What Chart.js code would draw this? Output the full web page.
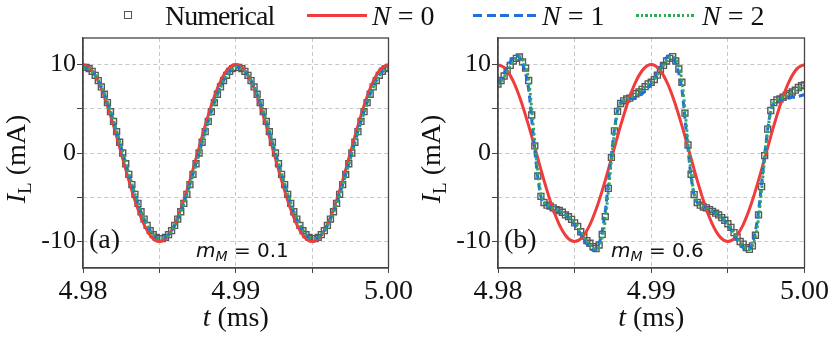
<!DOCTYPE html>
<html lang="en">
<head>
<meta charset="UTF-8">
<title>Inductor current</title>
<style>
  body { margin:0; background:#fff; }
  #wrap { position:relative; width:831px; height:340px; overflow:hidden; }
  canvas { position:absolute; top:0; }
  #cA { left:0; }
  #cB { left:415px; }
  .lg { position:absolute; top:2px; font:28px "Liberation Serif", "Times New Roman", serif; line-height:28px; color:#111; white-space:nowrap; }
  .mk { position:absolute; top:11px; width:6px; height:6px; border:1.5px solid #555; }
  .ln { position:absolute; top:14px; height:3px; }
</style>
</head>
<body>
<div id="wrap">
  <canvas id="cA" width="415" height="340"></canvas>
  <canvas id="cB" width="416" height="340"></canvas>

  <span class="mk" style="left:124px"></span>
  <span class="lg" style="left:165px; letter-spacing:-1px">Numerical</span>
  <span class="ln" style="left:307px; width:60px; background:#f03c3c"></span>
  <span class="lg" style="left:372px"><i>N</i> = 0</span>
  <span class="ln" style="left:473px; width:64px; background:repeating-linear-gradient(90deg,#1f6fe0 0 9px,transparent 9px 13.5px)"></span>
  <span class="lg" style="left:542px"><i>N</i> = 1</span>
  <span class="ln" style="left:636px; width:58px; background:repeating-linear-gradient(90deg,#2fa85a 0 2.5px,transparent 2.5px 4.6px)"></span>
  <span class="lg" style="left:702px"><i>N</i> = 2</span>
</div>

<script src="https://cdn.jsdelivr.net/npm/chart.js"></script>
<script>
// time axis: samples start at t0, numerical every 0.2 us, smooth curves of panel (a) every 0.5 us
const t0 = 4.98;
const dtNum = 0.0002;
const dtLine = 0.0005;

const xTicks = [4.98, 4.985, 4.99, 4.995, 5.00];
const xTickLabels = ['4.98', '', '4.99', '', '5.00'];
const yTicks = [-10, -5, 0, 5, 10];
const yTickLabels = ['-10', '', '0', '', '10'];

// N = 0 (same in both panels), step dtLine
const iN0 = [10, 9.51, 8.09, 5.88, 3.09, 0, -3.09, -5.88, -8.09, -9.51,
  -10, -9.51, -8.09, -5.88, -3.09, 0, 3.09, 5.88, 8.09, 9.51,
  10, 9.51, 8.09, 5.88, 3.09, 0, -3.09, -5.88, -8.09, -9.51,
  -10, -9.51, -8.09, -5.88, -3.09, 0, 3.09, 5.88, 8.09, 9.51, 10];

// panel (a), m_M = 0.1
const iNumA = [9.68, 9.68, 9.53, 9.23, 8.78, 8.19, 7.47, 6.64, 5.70, 4.67,
  3.57, 2.41, 1.22, 0, -1.22, -2.41, -3.57, -4.67, -5.70, -6.64,
  -7.47, -8.19, -8.78, -9.23, -9.53, -9.68, -9.68, -9.53, -9.23, -8.78,
  -8.19, -7.47, -6.64, -5.70, -4.67, -3.57, -2.41, -1.22, 0, 1.22,
  2.41, 3.57, 4.67, 5.70, 6.64, 7.47, 8.19, 8.78, 9.23, 9.53,
  9.68, 9.68, 9.53, 9.23, 8.78, 8.19, 7.47, 6.64, 5.70, 4.67,
  3.57, 2.41, 1.22, 0, -1.22, -2.41, -3.57, -4.67, -5.70, -6.64,
  -7.47, -8.19, -8.78, -9.23, -9.53, -9.68, -9.68, -9.53, -9.23, -8.78,
  -8.19, -7.47, -6.64, -5.70, -4.67, -3.57, -2.41, -1.22, 0, 1.22,
  2.41, 3.57, 4.67, 5.70, 6.64, 7.47, 8.19, 8.78, 9.23, 9.53, 9.68];
const iN1A = [9.68, 9.40, 8.19, 6.18, 3.57, 0.61, -2.41, -5.20, -7.47, -9.02,
  -9.68, -9.40, -8.19, -6.18, -3.57, -0.61, 2.41, 5.20, 7.47, 9.02,
  9.68, 9.40, 8.19, 6.18, 3.57, 0.61, -2.41, -5.20, -7.47, -9.02,
  -9.68, -9.40, -8.19, -6.18, -3.57, -0.61, 2.41, 5.20, 7.47, 9.02, 9.68];
const iN2A = [9.66, 9.42, 8.24, 6.25, 3.65, 0.70, -2.33, -5.12, -7.41, -8.98,
  -9.66, -9.42, -8.24, -6.25, -3.65, -0.70, 2.33, 5.12, 7.41, 8.98,
  9.66, 9.42, 8.24, 6.25, 3.65, 0.70, -2.33, -5.12, -7.41, -8.98,
  -9.66, -9.42, -8.24, -6.25, -3.65, -0.70, 2.33, 5.12, 7.41, 8.98, 9.66];

// panel (b), m_M = 0.6, all step dtNum
const iNumB = [7.8, 8.2, 8.7, 9.3, 9.9, 10.4, 10.7, 10.85, 10.3, 9.6,
  8.2, 4.3, 0.8, -2.6, -4.9, -5.6, -5.9, -6.0, -6.2, -6.4,
  -6.5, -6.7, -7.0, -7.2, -7.5, -7.9, -8.3, -8.9, -9.4, -9.9,
  -10.2, -10.6, -10.8, -10.4, -9.2, -7.2, -4.0, -0.5, 2.5, 4.7,
  5.6, 5.9, 6.1, 6.2, 6.4, 6.7, 6.9, 7.2, 7.5, 7.8,
  8.0, 8.3, 8.8, 9.4, 9.9, 10.4, 10.7, 10.9, 10.4, 9.5,
  8.0, 4.5, 0.9, -2.4, -4.7, -5.6, -5.9, -6.1, -6.2, -6.4,
  -6.6, -6.8, -7.0, -7.3, -7.6, -8.0, -8.4, -9.0, -9.5, -10.0,
  -10.3, -10.7, -10.9, -10.5, -9.3, -7.0, -3.8, -0.3, 2.7, 4.8,
  5.7, 6.0, 6.1, 6.3, 6.5, 6.7, 6.9, 7.1, 7.4, 7.6, 7.7];
const iN1B = [7.9, 8.4, 9.0, 9.7, 10.3, 10.8, 11.0, 10.8, 10.1, 9.0,
  7.2, 3.8, 0.3, -2.8, -4.9, -5.6, -5.9, -6.1, -6.2, -6.4,
  -6.6, -6.8, -7.0, -7.3, -7.7, -8.1, -8.6, -9.2, -9.8, -10.3,
  -10.7, -11.0, -10.9, -10.2, -8.8, -6.6, -3.4, -0.2, 2.7, 4.8,
  5.7, 5.9, 6.0, 6.1, 6.2, 6.3, 6.5, 6.7, 7.0, 7.4,
  7.9, 8.5, 9.1, 9.7, 10.3, 10.8, 11.0, 10.8, 10.1, 9.0,
  7.2, 3.9, 0.4, -2.7, -4.8, -5.6, -5.9, -6.1, -6.2, -6.4,
  -6.6, -6.8, -7.0, -7.3, -7.7, -8.1, -8.6, -9.2, -9.8, -10.3,
  -10.7, -11.0, -10.9, -10.2, -8.8, -6.6, -3.4, -0.2, 2.7, 4.8,
  5.6, 5.9, 6.0, 6.1, 6.1, 6.2, 6.3, 6.3, 6.4, 6.5, 6.6];
const iN2B = [7.7, 8.1, 8.6, 9.2, 9.8, 10.3, 10.7, 10.9, 10.6, 9.8,
  8.3, 5.0, 1.2, -2.2, -4.6, -5.6, -5.9, -6.0, -6.2, -6.4,
  -6.5, -6.7, -7.0, -7.2, -7.5, -7.9, -8.3, -8.9, -9.5, -10.0,
  -10.4, -10.7, -10.9, -10.6, -9.6, -7.6, -4.4, -0.8, 2.3, 4.6,
  5.6, 5.9, 6.1, 6.2, 6.4, 6.6, 6.9, 7.2, 7.5, 7.8,
  7.9, 8.3, 8.8, 9.4, 9.9, 10.4, 10.8, 10.9, 10.6, 9.8,
  8.2, 4.9, 1.1, -2.3, -4.6, -5.6, -5.9, -6.1, -6.2, -6.4,
  -6.6, -6.8, -7.0, -7.3, -7.6, -8.0, -8.4, -9.0, -9.6, -10.1,
  -10.5, -10.8, -10.9, -10.5, -9.5, -7.4, -4.2, -0.6, 2.5, 4.7,
  5.7, 6.0, 6.1, 6.3, 6.5, 6.7, 6.9, 7.1, 7.3, 7.5, 7.6];

const RED = '#f03c3c', BLUE = '#1f6fe0', GREEN = '#2fa85a', GREY = '#595959';
const SERIF = '"Liberation Serif", "Times New Roman", serif';
const SANS = '"DejaVu Sans", sans-serif';

function pts(vals, dt) {
  return vals.map((v, i) => ({ x: t0 + i * dt, y: v }));
}

// draw a run of text pieces with different fonts / baseline shifts
function drawRich(ctx, parts, x, y, centered) {
  let w = 0;
  parts.forEach(p => { ctx.font = p.f; w += ctx.measureText(p.t).width; });
  let cx = centered ? x - w / 2 : x;
  parts.forEach(p => {
    ctx.font = p.f;
    ctx.fillText(p.t, cx, y + (p.dy || 0));
    cx += ctx.measureText(p.t).width;
  });
}

const panelText = {
  id: 'panelText',
  afterDraw(chart, args, opts) {
    const ctx = chart.ctx, a = chart.chartArea;
    ctx.save();
    ctx.strokeStyle = '#444';
    ctx.lineWidth = 1.3;
    ctx.strokeRect(a.left, a.top, a.right - a.left, a.bottom - a.top);

    ctx.fillStyle = '#111';
    ctx.textAlign = 'left';
    ctx.textBaseline = 'alphabetic';
    // x title
    drawRich(ctx, [
      { t: 't', f: 'italic 28px ' + SERIF },
      { t: ' (ms)', f: '28px ' + SERIF }
    ], (a.left + a.right) / 2, a.bottom + 58, true);
    // y title
    ctx.save();
    ctx.translate(a.left - 58, (a.top + a.bottom) / 2 + 6);
    ctx.rotate(-Math.PI / 2);
    drawRich(ctx, [
      { t: 'I', f: 'italic 28px ' + SERIF },
      { t: 'L', f: '19px ' + SERIF, dy: 6 },
      { t: ' (mA)', f: '28px ' + SERIF }
    ], 0, 0, true);
    ctx.restore();
    // panel tag and modulation index
    ctx.font = '28px ' + SERIF;
    ctx.fillText(opts.tag, a.left + 6, a.bottom - 20);
    drawRich(ctx, [
      { t: 'm', f: 'italic 20px ' + SANS },
      { t: 'M', f: 'italic 14px ' + SANS, dy: 4 },
      { t: ' = ' + opts.m, f: '20px ' + SANS }
    ], a.left + 113, a.bottom - 11, false);
    ctx.restore();
  }
};

function makeChart(id, num, n1, dt1, n2, dt2, tag, m) {
  const ctx = document.getElementById(id).getContext('2d');
  return new Chart(ctx, {
    type: 'scatter',
    data: {
      datasets: [
        { label: 'Numerical', data: pts(num, dtNum), showLine: false, pointStyle: 'rect',
          pointRadius: 4.2, borderColor: GREY, borderWidth: 1.4, backgroundColor: 'rgba(0,0,0,0)', order: 4 },
        { label: 'N = 0', data: pts(iN0, dtLine), showLine: true, pointRadius: 0,
          borderColor: RED, borderWidth: 3, cubicInterpolationMode: 'monotone', order: 3 },
        { label: 'N = 1', data: pts(n1, dt1), showLine: true, pointRadius: 0,
          borderColor: BLUE, borderWidth: 3, borderDash: [7, 4], cubicInterpolationMode: 'monotone', order: 2 },
        { label: 'N = 2', data: pts(n2, dt2), showLine: true, pointRadius: 0,
          borderColor: GREEN, borderWidth: 3, borderDash: [2.5, 2.5], cubicInterpolationMode: 'monotone', order: 1 }
      ]
    },
    options: {
      responsive: false,
      animation: false,
      devicePixelRatio: 1,
      layout: { padding: { top: 38, right: 26, left: 0, bottom: 0 } },
      plugins: {
        legend: { display: false },
        tooltip: { enabled: false },
        panelText: { tag: tag, m: m }
      },
      scales: {
        x: {
          type: 'linear', min: 4.98, max: 5.00,
          afterBuildTicks: s => { s.ticks = xTicks.map(v => ({ value: v })); },
          afterFit: s => { s.height = 72; },
          ticks: {
            callback: (v, i) => xTickLabels[i],
            autoSkip: false, maxRotation: 0, padding: 2, color: '#111',
            font: { family: SERIF, size: 28 }
          },
          grid: { color: '#c8c8c8', lineWidth: 1, tickColor: '#444', tickLength: 5 },
          border: { color: '#444', width: 1.3, dash: [4, 3] }
        },
        y: {
          min: -13, max: 13,
          afterBuildTicks: s => { s.ticks = yTicks.map(v => ({ value: v })); },
          afterFit: s => { s.width = 83; },
          ticks: {
            callback: (v, i) => yTickLabels[i],
            padding: 1, color: '#111',
            font: { family: SERIF, size: 26 }
          },
          grid: { color: '#c8c8c8', lineWidth: 1, tickColor: '#444', tickLength: 6 },
          border: { color: '#444', width: 1.3, dash: [4, 3] }
        }
      }
    },
    plugins: [panelText]
  });
}

makeChart('cA', iNumA, iN1A, dtLine, iN2A, dtLine, '(a)', '0.1');
makeChart('cB', iNumB, iN1B, dtNum, iN2B, dtNum, '(b)', '0.6');
</script>
</body>
</html>
